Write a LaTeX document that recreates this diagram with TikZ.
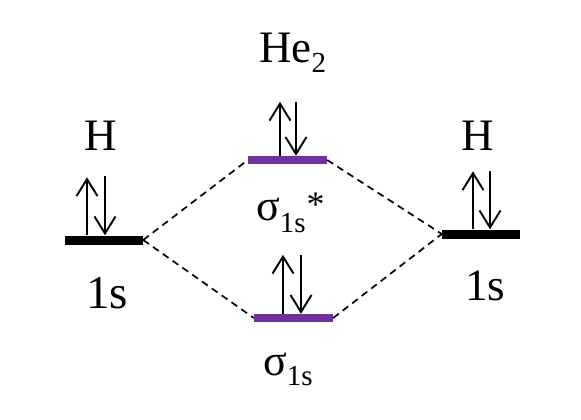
\documentclass[tikz,border=0pt]{standalone}
\usepackage{fontspec}
\setmainfont{Liberation Serif}
\usetikzlibrary{arrows.meta}
\definecolor{mopurple}{RGB}{112,48,160}
\begin{document}
\begin{tikzpicture}[x=1pt,y=-1pt,
  lvl/.style={rectangle,inner sep=0pt,minimum height=9pt,minimum width=78pt,fill=black},
  mo/.style={lvl,minimum height=8pt,minimum width=79pt,fill=mopurple},
  spin/.style={line width=1.9pt,-{Straight Barb[length=17pt,width=21pt,line width=1.9pt]}},
  link/.style={line width=1.7pt,dash pattern=on 7pt off 5pt},
  lab/.style={inner sep=0pt,anchor=base west,font=\fontsize{45}{50}\selectfont}]
\useasboundingbox[fill=white] (0,0) rectangle (581,420);

% energy levels
\node[lvl] (L) at (104,240) {};
\node[mo]  (U) at (287.5,160) {};
\node[mo]  (D) at (293.5,318) {};
\node[lvl] (R) at (481,234) {};

% correlation lines
\draw[link] (L.east) -- (U.west);
\draw[link] (L.east) -- (D.west);
\draw[link] (U.east) -- (R.west);
\draw[link] (D.east) -- (R.west);

% electrons
\draw[spin] ([xshift=-17pt]L.north) -- ++(0,-58);
\draw[spin] ([xshift=1pt,yshift=59pt]L.north) -- ([xshift=1pt]L.north);
\draw[spin] ([xshift=-7.5pt]U.north) -- ++(0,-54);
\draw[spin] ([xshift=8.5pt,yshift=54pt]U.north) -- ([xshift=8.5pt]U.north);
\draw[spin] ([xshift=-10.5pt]D.north) -- ++(0,-59);
\draw[spin] ([xshift=7.5pt,yshift=59pt]D.north) -- ([xshift=7.5pt]D.north);
\draw[spin] ([xshift=-8pt]R.north) -- ++(0,-58);
\draw[spin] ([xshift=9pt,yshift=58pt]R.north) -- ([xshift=9pt]R.north);

% labels
\node[lab] (hl) at (84,150) {H};
\node[lab] (hr) at (461,150) {H};
\node[lab] (he) at (259,63) {He\raisebox{-10pt}{\fontsize{29}{30}\selectfont 2}};
\node[lab,font=\fontsize{44}{50}\selectfont] (ss) at (256,220) {σ{\fontsize{29}{30}\selectfont\raisebox{-12pt}{1s}\hspace{1pt}\raisebox{4pt}{\fontsize{36}{36}\selectfont *}}};
\node[lab,font=\fontsize{44}{50}\selectfont] (sb) at (263,375) {σ{\fontsize{29}{30}\selectfont\raisebox{-10pt}{1s}}};
\node[lab,font=\fontsize{47}{54}\selectfont] (sl) at (86,308) {1s};
\node[lab] (sr) at (465,300) {1s};
\end{tikzpicture}
\end{document}
